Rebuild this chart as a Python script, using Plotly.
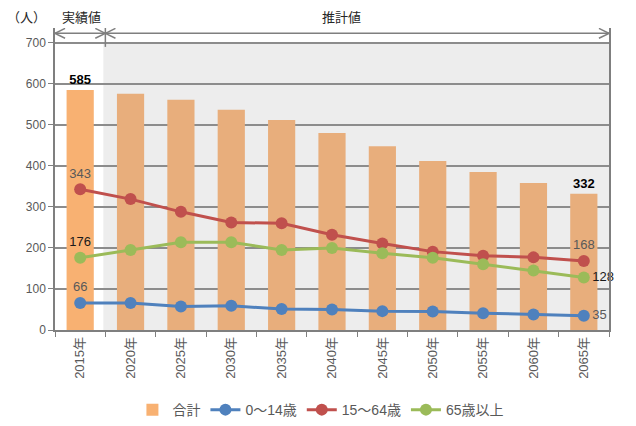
import plotly.graph_objects as go

years = ["2015年", "2020年", "2025年", "2030年", "2035年", "2040年",
         "2045年", "2050年", "2055年", "2060年", "2065年"]
total = [585, 576, 561, 537, 512, 480, 448, 412, 385, 358, 332]
age_0_14 = [66, 66, 57, 59, 51, 50, 46, 45, 41, 38, 35]
age_15_64 = [343, 319, 288, 262, 260, 232, 211, 191, 181, 177, 168]
age_65 = [176, 195, 214, 214, 195, 200, 187, 176, 160, 145, 128]
y_ticks = [0, 100, 200, 300, 400, 500, 600, 700]

FONT = "Liberation Sans, Noto Sans CJK JP, sans-serif"
GRAY = "#595959"

def end_labels(vals, bold=False):
    out = []
    for i, v in enumerate(vals):
        if i == 0 or i == len(vals) - 1:
            out.append(f"<b>{v}</b>" if bold else str(v))
        else:
            out.append("")
    return out

fig = go.Figure()

bar_colors = ["#F8B172"] + ["#E8AE7C"] * (len(years) - 1)
fig.add_trace(go.Bar(
    x=years, y=total, name="合計",
    marker=dict(color=bar_colors, line=dict(width=0)),
    width=0.54,
    text=end_labels(total, bold=True), textposition="outside",
    textfont=dict(color="#000000", size=13, family=FONT),
    cliponaxis=False,
))

def line_trace(vals, name, color, positions, tcolor):
    return go.Scatter(
        x=years, y=vals, name=name, mode="lines+markers+text",
        line=dict(color=color, width=3),
        marker=dict(color=color, size=12),
        text=end_labels(vals), textposition=positions,
        textfont=dict(color=tcolor, size=13, family=FONT),
        cliponaxis=False,
    )

n = len(years)
pos_top = ["top center"] * n
pos_right = ["top center"] * (n - 1) + ["middle right"]

fig.add_trace(line_trace(age_0_14, "0〜14歳", "#4F81BD", pos_right, GRAY))
fig.add_trace(line_trace(age_15_64, "15〜64歳", "#C0504D", pos_top, GRAY))
fig.add_trace(line_trace(age_65, "65歳以上", "#9BBB59", pos_right, "#1a1a1a"))

# shaded projection region
fig.add_shape(type="rect", xref="x", yref="y", x0=0.46, x1=10.5, y0=0, y1=700,
              fillcolor="#EDEDED", line=dict(width=0), layer="below")

# arrows
ay = 723
arrow_col = "#7f7f7f"
def seg(x0, y0, x1, y1):
    fig.add_shape(type="line", xref="x", yref="y", x0=x0, y0=y0, x1=x1, y1=y1,
                  line=dict(color=arrow_col, width=1.5))
seg(-0.5, ay, 0.5, ay)
seg(0.5, ay, 10.5, ay)
dx, dy = 0.2, 12
for xt, d in [(-0.5, 1), (0.5, -1), (0.5, 1), (10.5, -1)]:
    seg(xt, ay, xt + d * dx, ay + dy)
    seg(xt, ay, xt + d * dx, ay - dy)
seg(0.5, 690, 0.5, 736)

for txt, xp in [("（人）", -0.052), ("実績値", 0.047), ("推計値", 0.517)]:
    fig.add_annotation(text=txt, xref="paper", yref="paper", x=xp, y=1.036,
                       showarrow=False, font=dict(size=13, color="#262626", family=FONT),
                       xanchor="center", yanchor="middle")

fig.update_layout(
    width=620, height=410,
    margin=dict(l=47, r=19, t=20, b=88, autoexpand=False),
    paper_bgcolor="white", plot_bgcolor="white",
    font=dict(family=FONT, size=12, color=GRAY),
    showlegend=True,
    legend=dict(orientation="h", x=0.48, y=-0.265, xanchor="center", yanchor="middle",
                font=dict(size=14, color=GRAY), traceorder="normal",
                itemwidth=30),
    bargap=0.46,
)
fig.update_xaxes(
    type="category", range=[-0.5, 10.5], tickangle=-90,
    ticks="outside", tickson="boundaries", ticklen=5, tickcolor="#7f7f7f",
    showline=True, linecolor="#7f7f7f", linewidth=1.5,
    showgrid=False, tickfont=dict(size=13, color=GRAY),
)
fig.update_yaxes(
    range=[0, 736], tickvals=y_ticks, ticks="outside", ticklen=5, tickcolor="#7f7f7f",
    showline=True, mirror=True, linecolor="#7f7f7f", linewidth=1.5,
    showgrid=True, gridcolor="#8c8c8c", gridwidth=1.5, zeroline=False,
    tickfont=dict(size=12, color=GRAY),
)

fig.write_html("out.html")
